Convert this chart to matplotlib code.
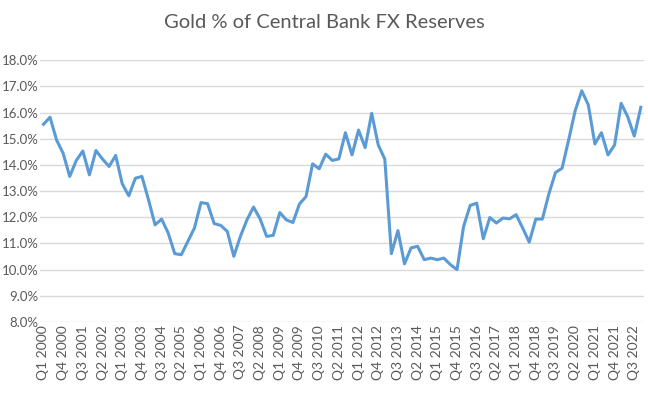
import matplotlib
matplotlib.use("Agg")
import matplotlib.pyplot as plt
from matplotlib.ticker import FuncFormatter

# quarterly categories Q1 2000 .. Q4 2022
quarters = [f"Q{q} {y}" for y in range(2000, 2023) for q in range(1, 5)]

# gold share of central bank FX reserves (%)
gold_pct = [
    15.55, 15.82, 14.95, 14.44, 13.56, 14.17, 14.53, 13.62, 14.55, 14.22,
    13.94, 14.36, 13.28, 12.82, 13.49, 13.56, 12.67, 11.71, 11.93, 11.40,
    10.61, 10.57, 11.08, 11.59, 12.56, 12.52, 11.76, 11.69, 11.46, 10.51,
    11.27, 11.90, 12.39, 11.94, 11.27, 11.31, 12.18, 11.90, 11.80, 12.51,
    12.79, 14.04, 13.85, 14.41, 14.17, 14.23, 15.23, 14.38, 15.33, 14.66,
    15.97, 14.76, 14.22, 10.61, 11.49, 10.22, 10.83, 10.89, 10.38, 10.44,
    10.38, 10.44, 10.19, 10.00, 11.65, 12.45, 12.54, 11.18, 11.99, 11.78,
    11.97, 11.94, 12.10, 11.59, 11.05, 11.93, 11.93, 12.90, 13.71, 13.87,
    14.95, 16.07, 16.83, 16.29, 14.80, 15.23, 14.38, 14.76, 16.35, 15.84,
    15.10, 16.20,
]

tick_step = 3
y_ticks = [8, 9, 10, 11, 12, 13, 14, 15, 16, 17, 18]

plt.rcParams['font.family'] = ['Lato', 'DejaVu Sans']

fig = plt.figure(figsize=(6.48, 4.01), dpi=100)
ax = fig.add_axes([0.062, 0.197, 0.932, 0.653])

x = range(len(gold_pct))
ax.plot(x, gold_pct, color='#5B9BD5', linewidth=2.2, solid_joinstyle='round')

ax.set_xlim(-0.5, len(gold_pct) - 0.5)
ax.set_ylim(8, 18)
ax.set_yticks(y_ticks)
ax.yaxis.set_major_formatter(FuncFormatter(lambda v, p: f"{v:.1f}%"))
ticks = list(range(0, len(quarters), tick_step))
ax.set_xticks(ticks)
ax.set_xticklabels([quarters[i] for i in ticks], rotation=90)

ax.grid(axis='y', color='#D9D9D9', linewidth=1)
ax.set_axisbelow(True)
for s in ax.spines.values():
    s.set_visible(False)
ax.tick_params(length=0, labelsize=10, colors='#595959', pad=2)
ax.tick_params(axis='y', labelsize=9.5, pad=1)

fig.text(0.5, 0.945, "Gold % of Central Bank FX Reserves", ha='center', va='center',
         fontsize=14.5, color='#595959')

fig.savefig("out.png", dpi=100)
